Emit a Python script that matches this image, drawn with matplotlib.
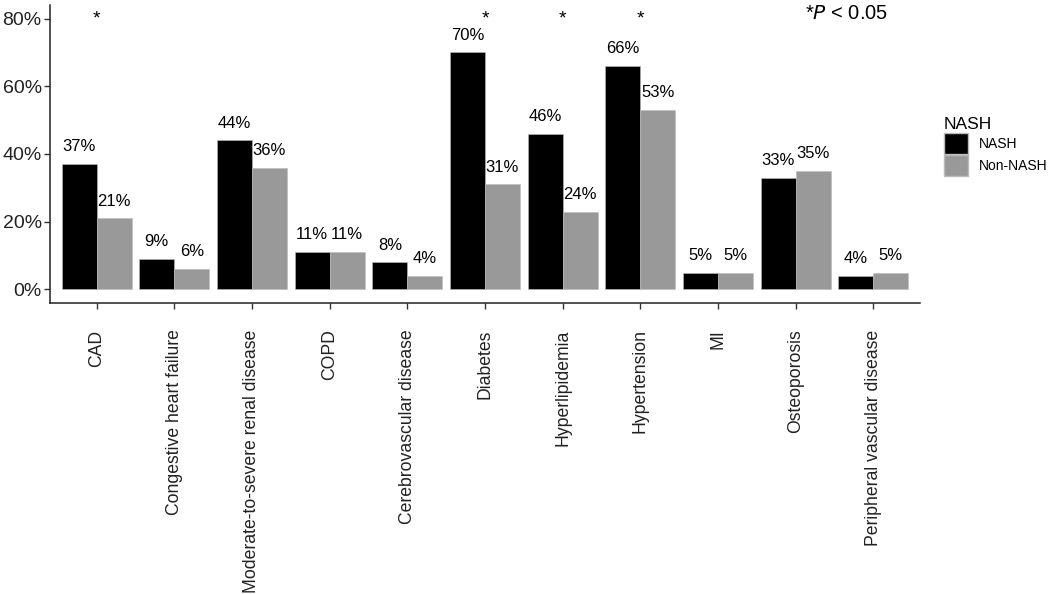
import numpy as np
import matplotlib
matplotlib.use("Agg")
from matplotlib import pyplot as plt
from matplotlib.patches import Patch

plt.rcParams['font.family'] = ['Liberation Sans', 'DejaVu Sans']

categories = ["CAD", "Congestive heart failure", "Moderate-to-severe renal disease",
              "COPD", "Cerebrovascular disease", "Diabetes", "Hyperlipidemia",
              "Hypertension", "MI", "Osteoporosis", "Peripheral vascular disease"]
nash = [37, 9, 44, 11, 8, 70, 46, 66, 5, 33, 4]
non_nash = [21, 6, 36, 11, 4, 31, 23, 53, 5, 35, 5]
nash_labels = ["37%", "9%", "44%", "11%", "8%", "70%", "46%", "66%", "5%", "33%", "4%"]
non_nash_labels = ["21%", "6%", "36%", "11%", "4%", "31%", "24%", "53%", "5%", "35%", "5%"]
significant = ["CAD", "Diabetes", "Hyperlipidemia", "Hypertension"]
star_level = 80

fig = plt.figure(figsize=(10.5, 5.94), dpi=100)
ax = fig.add_axes([50/1050, 1 - 303/594, 870/1050, 298/594])

x = np.arange(1, len(categories) + 1)
w = 0.45
black = "#000000"
gray = "#999999"
ax.bar(x - w/2, nash, w, color=black, edgecolor="#bbbbbb", linewidth=0.4)
ax.bar(x + w/2, non_nash, w, color=gray, edgecolor="#bbbbbb", linewidth=0.4)

for xi, v, t in zip(x - w/2, nash, nash_labels):
    ax.annotate(t, (xi, v), xytext=(0, 7), textcoords="offset points",
                ha="center", va="bottom", fontsize=12)
for xi, v, t in zip(x + w/2, non_nash, non_nash_labels):
    ax.annotate(t, (xi, v), xytext=(0, 7), textcoords="offset points",
                ha="center", va="bottom", fontsize=12)

for c in significant:
    ax.text(categories.index(c) + 1, star_level, "*", ha="center", va="center", fontsize=14)

ax.text(10.12, 81.5, r"*$\it{P}$ < 0.05", ha="left", va="center", fontsize=14.5,
        clip_on=False)

ax.set_xlim(0.4, 11.6)
ax.set_ylim(-4, 84)
ax.set_yticks([0, 20, 40, 60, 80])
ax.set_yticklabels(["0%", "20%", "40%", "60%", "80%"], fontsize=14, color="#222222")
ax.set_xticks(x)
ax.set_xticklabels(categories, rotation=90, fontsize=12.7, color="#222222")
ax.tick_params(length=4, width=1, color="#333333", pad=2)
ax.tick_params(axis="x", pad=15)
for s in ["top", "right"]:
    ax.spines[s].set_visible(False)
for s in ["left", "bottom"]:
    ax.spines[s].set_linewidth(1.1)
    ax.spines[s].set_color("#222222")

handles = [Patch(facecolor=black, edgecolor="#bbbbbb", label="NASH"),
           Patch(facecolor=gray, edgecolor="#bbbbbb", label="Non-NASH")]
fig.legend(handles=handles, title="NASH", loc="upper left",
           bbox_to_anchor=(944/1050, 1 - 117/594), frameon=False, fontsize=10,
           title_fontsize=12.5, handlelength=1.75, handleheight=2.0,
           labelspacing=0.05, handletextpad=0.75, borderpad=0, borderaxespad=0,
           alignment="left")

fig.savefig("out.png", dpi=100)
